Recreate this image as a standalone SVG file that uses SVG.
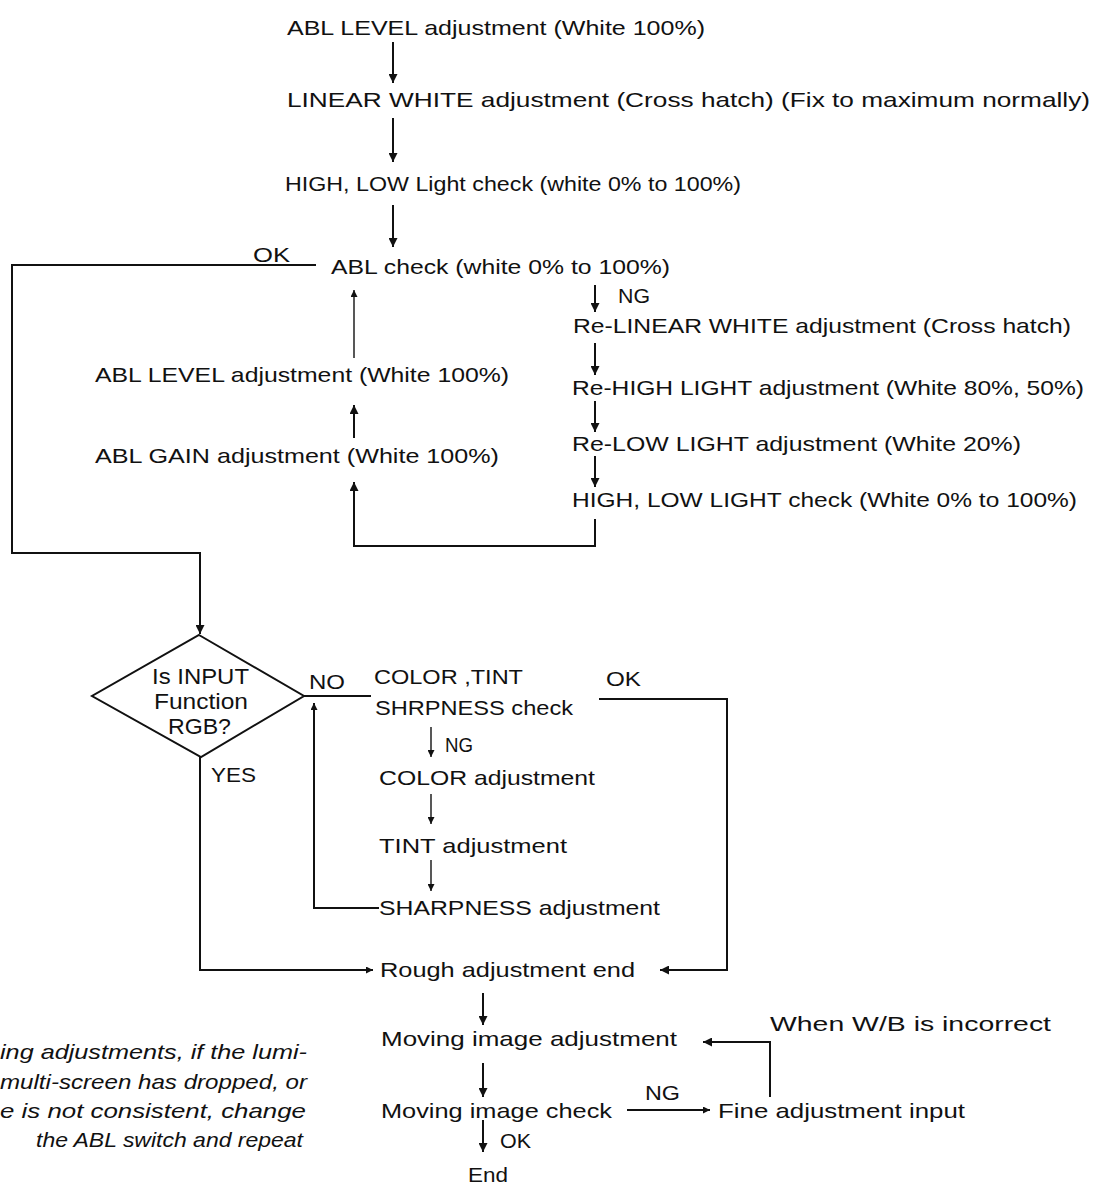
<svg xmlns="http://www.w3.org/2000/svg" width="1097" height="1189" viewBox="0 0 1097 1189">
<style>
text{font-family:"Liberation Sans",Arial,sans-serif;font-size:21px;fill:#111}
.it{font-style:italic}
.dt{font-size:22px}
.c{fill:none;stroke:#111;stroke-width:2}
.t{fill:none;stroke:#111;stroke-width:1.4}
.d{fill:#fff;stroke:#111;stroke-width:2}
</style>
<defs>
<marker id="ah" viewBox="0 0 10 10" refX="10" refY="5" markerWidth="11" markerHeight="9" orient="auto" markerUnits="userSpaceOnUse"><path d="M0,0 L10,5 L0,10 z" fill="#111"/></marker>
<marker id="as" viewBox="0 0 10 10" refX="10" refY="5" markerWidth="9" markerHeight="7" orient="auto" markerUnits="userSpaceOnUse"><path d="M0,0 L10,5 L0,10 z" fill="#111"/></marker>
</defs>
<g id="connectors">
<path class="c" d="M393,42V83" marker-end="url(#ah)"/>
<path class="c" d="M393,118V162" marker-end="url(#ah)"/>
<path class="c" d="M393,205V247" marker-end="url(#ah)"/>
<path class="c" d="M316,265H12V553H200V634" marker-end="url(#ah)"/>
<path class="c" d="M595,285V312" marker-end="url(#ah)"/>
<path class="c" d="M595,343V375" marker-end="url(#ah)"/>
<path class="c" d="M595,401V432" marker-end="url(#ah)"/>
<path class="c" d="M595,456V487" marker-end="url(#ah)"/>
<path class="c" d="M595,519V546H354V482" marker-end="url(#ah)"/>
<path class="c" d="M354,438V405" marker-end="url(#ah)"/>
<path class="t" d="M354,358V290" marker-end="url(#as)"/>
<path class="c" d="M304,696H371"/>
<path class="c" d="M599,699H727V970H660" marker-end="url(#ah)"/>
<path class="c" d="M379,908H314V703" marker-end="url(#as)"/>
<path class="t" d="M431,727V757" marker-end="url(#as)"/>
<path class="t" d="M431,794V824" marker-end="url(#as)"/>
<path class="t" d="M431,860V891" marker-end="url(#as)"/>
<path class="c" d="M200,757V970H373" marker-end="url(#as)"/>
<path class="c" d="M483,993V1025" marker-end="url(#ah)"/>
<path class="c" d="M483,1063V1097" marker-end="url(#ah)"/>
<path class="c" d="M483,1120V1152" marker-end="url(#ah)"/>
<path class="c" d="M627,1110H710" marker-end="url(#as)"/>
<path class="c" d="M770,1097V1042H703" marker-end="url(#ah)"/>
</g>
<g id="labels">
<text x="253" y="262" textLength="37" lengthAdjust="spacingAndGlyphs">OK</text>
<text x="618" y="303" textLength="32" lengthAdjust="spacingAndGlyphs">NG</text>
<text x="309" y="689" textLength="36" lengthAdjust="spacingAndGlyphs">NO</text>
<text x="606" y="686" textLength="35" lengthAdjust="spacingAndGlyphs">OK</text>
<text x="445" y="752" textLength="28" lengthAdjust="spacingAndGlyphs">NG</text>
<text x="211" y="782" textLength="45" lengthAdjust="spacingAndGlyphs">YES</text>
<text x="645" y="1100" textLength="35" lengthAdjust="spacingAndGlyphs">NG</text>
<text x="500" y="1148" textLength="31" lengthAdjust="spacingAndGlyphs">OK</text>
<text x="770" y="1031" textLength="281" lengthAdjust="spacingAndGlyphs">When W/B is incorrect</text>
</g>
<g id="n1"><text x="287" y="35" textLength="418" lengthAdjust="spacingAndGlyphs">ABL LEVEL adjustment (White 100%)</text></g>
<g id="n2"><text x="287" y="107" textLength="803" lengthAdjust="spacingAndGlyphs">LINEAR WHITE adjustment (Cross hatch) (Fix to maximum normally)</text></g>
<g id="n3"><text x="285" y="191" textLength="456" lengthAdjust="spacingAndGlyphs">HIGH, LOW Light check (white 0% to 100%)</text></g>
<g id="n4"><text x="331" y="274" textLength="339" lengthAdjust="spacingAndGlyphs">ABL check (white 0% to 100%)</text></g>
<g id="n5"><text x="573" y="333" textLength="498" lengthAdjust="spacingAndGlyphs">Re-LINEAR WHITE adjustment (Cross hatch)</text></g>
<g id="n6"><text x="572" y="395" textLength="512" lengthAdjust="spacingAndGlyphs">Re-HIGH LIGHT adjustment (White 80%, 50%)</text></g>
<g id="n7"><text x="572" y="451" textLength="449" lengthAdjust="spacingAndGlyphs">Re-LOW LIGHT adjustment (White 20%)</text></g>
<g id="n8"><text x="572" y="507" textLength="505" lengthAdjust="spacingAndGlyphs">HIGH, LOW LIGHT check (White 0% to 100%)</text></g>
<g id="n9"><text x="95" y="382" textLength="414" lengthAdjust="spacingAndGlyphs">ABL LEVEL adjustment (White 100%)</text></g>
<g id="n10"><text x="95" y="463" textLength="404" lengthAdjust="spacingAndGlyphs">ABL GAIN adjustment (White 100%)</text></g>
<g id="n11">
<polygon class="d" points="199,635 304,696 201,757 92,696"/>
<text class="dt" x="152" y="684" textLength="97" lengthAdjust="spacingAndGlyphs">Is INPUT</text>
<text class="dt" x="154" y="709" textLength="94" lengthAdjust="spacingAndGlyphs">Function</text>
<text class="dt" x="168" y="734" textLength="63" lengthAdjust="spacingAndGlyphs">RGB?</text>
</g>
<g id="n12">
<text x="374" y="684" textLength="149" lengthAdjust="spacingAndGlyphs">COLOR ,TINT</text>
<text x="375" y="715" textLength="198" lengthAdjust="spacingAndGlyphs">SHRPNESS check</text>
</g>
<g id="n13"><text x="379" y="785" textLength="216" lengthAdjust="spacingAndGlyphs">COLOR adjustment</text></g>
<g id="n14"><text x="379" y="853" textLength="188" lengthAdjust="spacingAndGlyphs">TINT adjustment</text></g>
<g id="n15"><text x="379" y="915" textLength="281" lengthAdjust="spacingAndGlyphs">SHARPNESS adjustment</text></g>
<g id="n16"><text x="380" y="977" textLength="255" lengthAdjust="spacingAndGlyphs">Rough adjustment end</text></g>
<g id="n17"><text x="381" y="1046" textLength="296" lengthAdjust="spacingAndGlyphs">Moving image adjustment</text></g>
<g id="n18"><text x="381" y="1118" textLength="231" lengthAdjust="spacingAndGlyphs">Moving image check</text></g>
<g id="n19"><text x="718" y="1118" textLength="247" lengthAdjust="spacingAndGlyphs">Fine adjustment input</text></g>
<g id="n20"><text x="468" y="1182" textLength="40" lengthAdjust="spacingAndGlyphs">End</text></g>
<g id="note">
<text class="it" x="0" y="1059" textLength="307" lengthAdjust="spacingAndGlyphs">ing adjustments, if the lumi-</text>
<text class="it" x="0" y="1089" textLength="307" lengthAdjust="spacingAndGlyphs">multi-screen has dropped, or</text>
<text class="it" x="0" y="1118" textLength="306" lengthAdjust="spacingAndGlyphs">e is not consistent, change</text>
<text class="it" x="36" y="1147" textLength="267" lengthAdjust="spacingAndGlyphs">the ABL switch and repeat</text>
</g>
</svg>
